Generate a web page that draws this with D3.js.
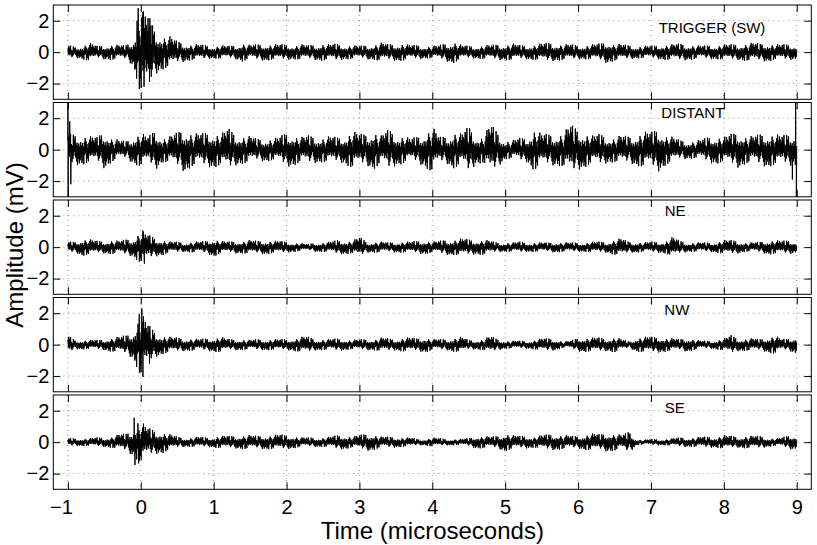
<!DOCTYPE html>
<html><head><meta charset="utf-8">
<script src="https://cdn.jsdelivr.net/npm/d3@7"></script>
<style>body{margin:0;background:#fff} svg{display:block}</style>
</head><body>
<script>
// ---- data ----
const xTicks = [-1,0,1,2,3,4,5,6,7,8,9];
const yTicks = [-2,0,2];
const channels = ["TRIGGER (SW)","DISTANT","NE","NW","SE"];
// peak amplitude envelope (mV), one value every 0.1 µs from -1.0 to 9.0
const envStart = -1.0, envStep = 0.1;
const envTrigger = [0.45,0.35,0.45,0.6,0.4,0.45,0.5,0.45,0.45,0.9,
 2.7,2.4,1.4,1.1,1.0,0.7,0.6,0.5,0.5,0.45,
 0.4,0.45,0.4,0.45,0.6,0.45,0.5,0.55,0.5,0.5,
 0.5,0.45,0.5,0.45,0.5,0.55,0.5,0.55,0.45,0.45,
 0.4,0.45,0.5,0.6,0.5,0.55,0.55,0.45,0.45,0.4,
 0.4,0.45,0.6,0.7,0.45,0.4,0.4,0.45,0.45,0.5,
 0.5,0.55,0.45,0.45,0.5,0.55,0.6,0.55,0.5,0.5,
 0.45,0.45,0.5,0.55,0.7,0.55,0.5,0.45,0.4,0.4,
 0.4,0.45,0.5,0.5,0.55,0.5,0.45,0.4,0.45,0.45,
 0.5,0.5,0.5,0.55,0.6,0.55,0.6,0.5,0.5,0.5,0.45];
const envDistant = [1.0,1.0,0.95,0.85,0.8,1.2,0.8,0.6,0.55,0.9,
 1.1,0.8,1.3,0.8,0.85,1.1,1.4,1.1,1.0,1.1,
 1.15,1.0,1.35,1.0,0.9,0.85,0.7,0.75,0.7,0.8,
 1.1,1.0,0.8,0.9,0.85,0.8,0.85,0.8,0.9,1.2,
 1.0,1.0,1.25,0.9,1.3,1.0,0.9,0.7,0.85,1.1,
 1.5,0.8,0.9,1.2,1.0,1.5,0.9,0.85,1.65,1.1,
 0.6,0.6,0.75,0.8,1.35,1.0,1.0,1.0,1.1,1.6,
 1.3,1.1,0.9,1.0,0.85,0.8,0.9,0.85,1.0,1.15,
 1.1,1.4,1.0,0.8,0.6,0.6,0.55,0.65,0.85,0.9,
 0.8,1.0,1.15,0.9,0.85,1.0,1.1,1.0,0.9,1.0,1.1];
const envNE = [0.35,0.35,0.55,0.5,0.4,0.4,0.45,0.4,0.5,0.6,
 1.05,0.8,0.6,0.5,0.35,0.35,0.3,0.35,0.35,0.4,
 0.6,0.4,0.35,0.4,0.4,0.45,0.4,0.45,0.4,0.4,
 0.35,0.3,0.25,0.2,0.3,0.3,0.35,0.45,0.45,0.4,
 0.65,0.35,0.35,0.35,0.3,0.35,0.35,0.35,0.4,0.45,
 0.35,0.4,0.5,0.5,0.55,0.5,0.45,0.5,0.4,0.3,
 0.3,0.3,0.35,0.3,0.3,0.3,0.3,0.35,0.3,0.3,
 0.3,0.3,0.35,0.35,0.35,0.5,0.55,0.35,0.35,0.3,
 0.35,0.35,0.4,0.65,0.4,0.3,0.3,0.3,0.3,0.35,
 0.45,0.45,0.4,0.3,0.3,0.35,0.45,0.45,0.4,0.45,0.35];
const envNW = [0.6,0.3,0.3,0.3,0.3,0.35,0.45,0.5,0.6,0.9,
 2.1,1.3,0.8,0.6,0.5,0.45,0.4,0.4,0.35,0.4,
 0.45,0.5,0.35,0.35,0.35,0.3,0.35,0.35,0.35,0.35,
 0.35,0.4,0.5,0.5,0.35,0.35,0.35,0.4,0.35,0.3,
 0.35,0.35,0.35,0.45,0.4,0.35,0.45,0.45,0.4,0.5,
 0.35,0.35,0.35,0.45,0.5,0.3,0.3,0.35,0.55,0.35,
 0.25,0.25,0.25,0.25,0.3,0.4,0.4,0.35,0.2,0.25,
 0.45,0.45,0.45,0.45,0.4,0.5,0.35,0.2,0.45,0.5,
 0.5,0.5,0.45,0.4,0.35,0.45,0.35,0.25,0.25,0.3,
 0.4,0.6,0.4,0.4,0.4,0.35,0.5,0.6,0.35,0.4,0.6];
const envSE = [0.25,0.25,0.25,0.25,0.3,0.3,0.35,0.5,0.55,0.9,
 1.35,0.9,0.75,0.7,0.5,0.35,0.3,0.3,0.35,0.3,
 0.35,0.4,0.4,0.4,0.45,0.45,0.4,0.45,0.45,0.5,
 0.45,0.4,0.3,0.3,0.3,0.3,0.35,0.45,0.45,0.35,
 0.45,0.55,0.5,0.35,0.35,0.35,0.3,0.3,0.2,0.2,
 0.3,0.25,0.2,0.2,0.2,0.25,0.4,0.4,0.35,0.4,
 0.6,0.45,0.4,0.4,0.35,0.45,0.5,0.5,0.45,0.4,
 0.4,0.5,0.55,0.5,0.6,0.55,0.45,0.7,0.2,0.15,
 0.2,0.2,0.2,0.25,0.3,0.3,0.3,0.35,0.35,0.35,
 0.45,0.4,0.35,0.4,0.4,0.4,0.3,0.25,0.3,0.45,0.45];
// individual extreme excursions [time µs, mV]
const spikesTrigger = [[-0.05,2.0],[-0.035,2.8],[-0.02,-2.35],[0.01,2.2],[0.03,2.55],[0.045,-2.2],[0.12,-1.9],[0.14,1.7]];
const spikesDistant = [[-1.0,3.2],[-0.996,-3.2],[-0.975,1.8],[-0.96,-2.2],[8.94,-1.9],[8.985,3.2],[8.995,-3.2]];
const spikesNE = [[0.03,1.05],[0.05,-1.05]];
const spikesNW = [[-0.02,1.95],[0.0,-1.75],[0.015,2.3],[0.03,-2.05],[0.1,1.2],[0.12,-1.2]];
const spikesSE = [[-0.09,1.55],[-0.08,-1.45],[-0.04,1.2],[-0.03,-1.35]];
// relative swing of successive samples inside the envelope
const carrier = [0.55,0.3,0.9,0.45,0.7,0.2,1.0,0.5,0.35,0.8,0.25,0.6,0.95,0.4,0.65,0.15,0.85,0.5,0.3,0.75,0.45,1.0,0.25,0.6,0.4,0.9,0.2,0.7,0.5];

const envs = [envTrigger, envDistant, envNE, envNW, envSE];
const spikes = [spikesTrigger, spikesDistant, spikesNE, spikesNW, spikesSE];
const labelPos = [[658.7,33.3],[661.3,118.3],[664.7,215.7],[664.3,315],[664.7,413.3]];

// ---- layout ----
const W = 817, H = 545;
const left = 53.3, right = 811.3, top0 = 5, step = 97.5, ph = 94.3;
const x = d3.scaleLinear().domain([-1.2, 9.2]).range([left, right]);
const font = "'Liberation Sans', Arial, Helvetica, sans-serif";
const fmt = d => d < 0 ? "\u2212" + Math.abs(d) : String(d);

const svg = d3.select("body").append("svg").attr("width", W).attr("height", H)
  .style("font-family", font);

const SUB = 16;
function buildTrace(env, sp) {
  const pts = [];
  const n = (env.length - 1) * SUB;
  for (let k = 0; k <= n; k++) {
    const i = Math.floor(k / SUB), f = (k % SUB) / SUB;
    const e = env[i] + (env[Math.min(i + 1, env.length - 1)] - env[i]) * f;
    const t = envStart + k * envStep / SUB;
    pts.push([t, (k % 2 ? -1 : 1) * e * carrier[k % carrier.length]]);
  }
  sp.forEach(s => pts.push(s));
  pts.sort((a, b) => a[0] - b[0]);
  return pts;
}

channels.forEach((name, p) => {
  const top = top0 + step * p;
  const y = d3.scaleLinear().domain([-3, 3]).range([top + ph, top]);
  const g = svg.append("g");

  // grid
  g.append("g").selectAll("line").data(xTicks).join("line")
    .attr("x1", d => x(d)).attr("x2", d => x(d)).attr("y1", top).attr("y2", top + ph)
    .attr("stroke", "#777").attr("stroke-width", 0.8).attr("stroke-dasharray", "1,4");
  g.append("g").selectAll("line").data(yTicks).join("line")
    .attr("x1", left).attr("x2", right).attr("y1", d => y(d)).attr("y2", d => y(d))
    .attr("stroke", "#777").attr("stroke-width", 0.8).attr("stroke-dasharray", "1,4");

  // trace
  const cid = "clip" + p;
  svg.append("clipPath").attr("id", cid).append("rect")
    .attr("x", left).attr("y", top).attr("width", right - left).attr("height", ph);
  const line = d3.line().x(d => x(d[0])).y(d => y(d[1]));
  g.append("path").datum(buildTrace(envs[p], spikes[p]))
    .attr("clip-path", `url(#${cid})`)
    .attr("d", line).attr("fill", "none").attr("stroke", "#000").attr("stroke-width", 1.0);

  // axes (ticks inward)
  const ax = (sel) => { sel.select(".domain").remove(); sel.selectAll(".tick line").attr("stroke", "#000"); };
  g.append("g").attr("transform", `translate(${left},0)`)
    .call(d3.axisLeft(y).tickValues(yTicks).tickSize(-7).tickPadding(4).tickFormat(fmt))
    .call(ax).selectAll("text").style("font-size", "20px").style("font-family", font).attr("fill", "#000");
  g.append("g").attr("transform", `translate(${right},0)`)
    .call(d3.axisRight(y).tickValues(yTicks).tickSize(-7).tickFormat("")).call(ax);
  g.append("g").attr("transform", `translate(0,${top})`)
    .call(d3.axisTop(x).tickValues(xTicks).tickSize(-7).tickFormat("")).call(ax);
  const bottom = g.append("g").attr("transform", `translate(0,${top + ph})`)
    .call(p === channels.length - 1
      ? d3.axisBottom(x).tickValues(xTicks).tickSize(-7).tickPadding(11).tickFormat(fmt)
      : d3.axisBottom(x).tickValues(xTicks).tickSize(-7).tickFormat(""))
    .call(ax);
  bottom.selectAll("text").style("font-size", "20px").style("font-family", font).attr("fill", "#000")
    .attr("dx", d => d < 0 ? -7 : 0);

  // box
  g.append("rect").attr("x", left).attr("y", top).attr("width", right - left).attr("height", ph)
    .attr("fill", "none").attr("stroke", "#000").attr("stroke-width", 1);

  // channel name
  g.append("text").attr("x", labelPos[p][0]).attr("y", labelPos[p][1])
    .style("font-size", "15px").attr("fill", "#000").text(name);
});

svg.append("text").attr("x", (left + right) / 2).attr("y", 539).attr("text-anchor", "middle")
  .style("font-size", "24px").attr("fill", "#000").text("Time (microseconds)");
svg.append("text").attr("transform", `translate(23,245) rotate(-90)`)
  .attr("text-anchor", "middle").style("font-size", "24px").attr("fill", "#000").text("Amplitude (mV)");
</script>
</body></html>
